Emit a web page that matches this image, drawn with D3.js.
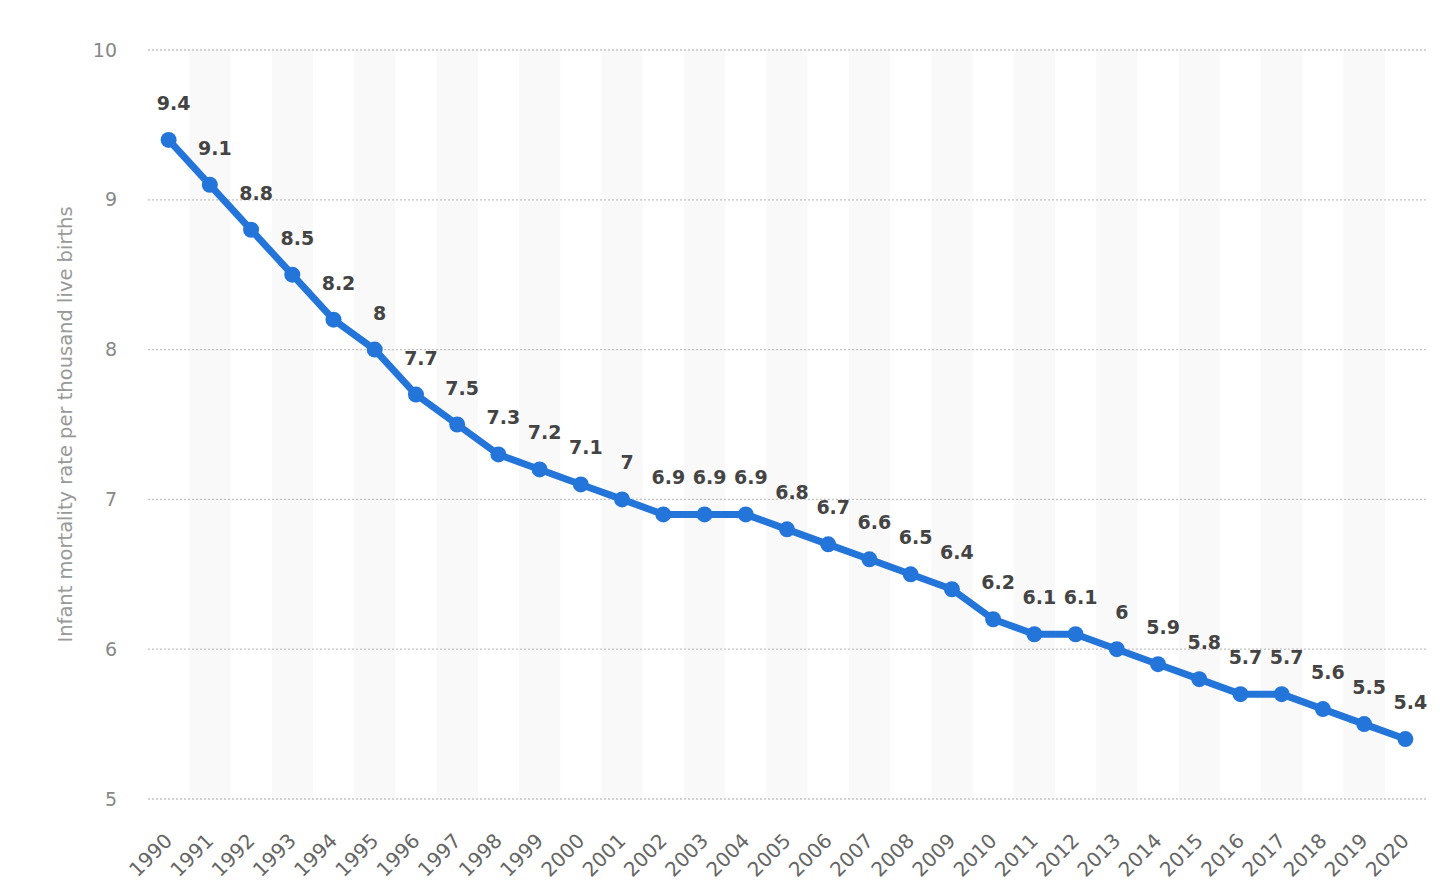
<!DOCTYPE html>
<html>
<head>
<meta charset="utf-8">
<script src="https://cdn.jsdelivr.net/npm/d3@7"></script>
<style>
  body { margin: 0; background: #fff; }
  svg { display: block; font-family: "DejaVu Sans", sans-serif; }
</style>
</head>
<body>
<div id="chart"></div>
<script>
const years = d3.range(1990, 2021).map(String);
const rates = [9.4, 9.1, 8.8, 8.5, 8.2, 8, 7.7, 7.5, 7.3, 7.2, 7.1, 7, 6.9, 6.9, 6.9,
  6.8, 6.7, 6.6, 6.5, 6.4, 6.2, 6.1, 6.1, 6, 5.9, 5.8, 5.7, 5.7, 5.6, 5.5, 5.4];
const yTicks = [5, 6, 7, 8, 9, 10];
const yTitle = "Infant mortality rate per thousand live births";

const width = 1440, height = 896;
const margin = { top: 50, right: 14, bottom: 97, left: 148 };
const font = "DejaVu Sans, sans-serif";

const data = years.map((y, i) => ({ year: y, value: rates[i] }));

const svg = d3.select("#chart").append("svg")
  .attr("width", width).attr("height", height);

const x = d3.scaleBand().domain(years)
  .range([margin.left, width - margin.right]).padding(0);
const y = d3.scaleLinear().domain([5, 10])
  .range([height - margin.bottom, margin.top]);

// alternating column bands
svg.append("g").selectAll("rect")
  .data(years.filter((_, i) => i % 2 === 1))
  .enter().append("rect")
  .attr("x", (d) => x(d))
  .attr("width", x.bandwidth())
  .attr("y", y(10))
  .attr("height", y(5) - y(10))
  .attr("fill", "#f9f9f9");

// grid
svg.append("g").selectAll("line")
  .data(yTicks)
  .enter().append("line")
  .attr("x1", margin.left).attr("x2", width - margin.right)
  .attr("y1", (d) => y(d)).attr("y2", (d) => y(d))
  .attr("stroke", "#c4c4c4")
  .attr("stroke-width", 1.3)
  .attr("stroke-dasharray", "2,2");

// y axis
const yAxis = svg.append("g")
  .attr("transform", `translate(${margin.left - 31},0)`)
  .call(d3.axisLeft(y).tickValues(yTicks).tickFormat(d3.format("d"))
    .tickSize(0).tickPadding(0));
yAxis.select(".domain").remove();
yAxis.selectAll("text")
  .attr("font-size", 19).attr("fill", "#888")
  .attr("font-family", font);

svg.append("text")
  .attr("transform", `translate(72,${(y(5) + y(10)) / 2}) rotate(-90)`)
  .attr("text-anchor", "middle")
  .attr("font-size", 19.5).attr("fill", "#999")
  .attr("font-family", font)
  .text(yTitle);

// x axis
const xAxis = svg.append("g")
  .attr("transform", `translate(0,${y(5) + 38})`)
  .call(d3.axisBottom(x).tickSize(0).tickPadding(0));
xAxis.select(".domain").remove();
xAxis.selectAll("text")
  .attr("font-size", 20).attr("fill", "#666")
  .attr("font-family", font)
  .attr("text-anchor", "end")
  .attr("y", 0)
  .attr("dy", "0.35em")
  .attr("transform", "rotate(-45)");

const cx = (d) => x(d.year) + x.bandwidth() / 2;

// line
svg.append("path")
  .datum(data)
  .attr("fill", "none")
  .attr("stroke", "#2475d9")
  .attr("stroke-width", 7)
  .attr("stroke-linejoin", "round")
  .attr("d", d3.line().x(cx).y((d) => y(d.value)));

svg.append("g").selectAll("circle")
  .data(data)
  .enter().append("circle")
  .attr("cx", cx)
  .attr("cy", (d) => y(d.value))
  .attr("r", 8)
  .attr("fill", "#2475d9");

// value labels
svg.append("g").selectAll("text")
  .data(data)
  .enter().append("text")
  .attr("x", (d) => cx(d) + 5)
  .attr("y", (d) => y(d.value) - 30)
  .attr("text-anchor", "middle")
  .attr("font-size", 19)
  .attr("font-weight", "bold")
  .attr("font-family", font)
  .attr("fill", "#444")
  .text((d) => d.value);
</script>
</body>
</html>
